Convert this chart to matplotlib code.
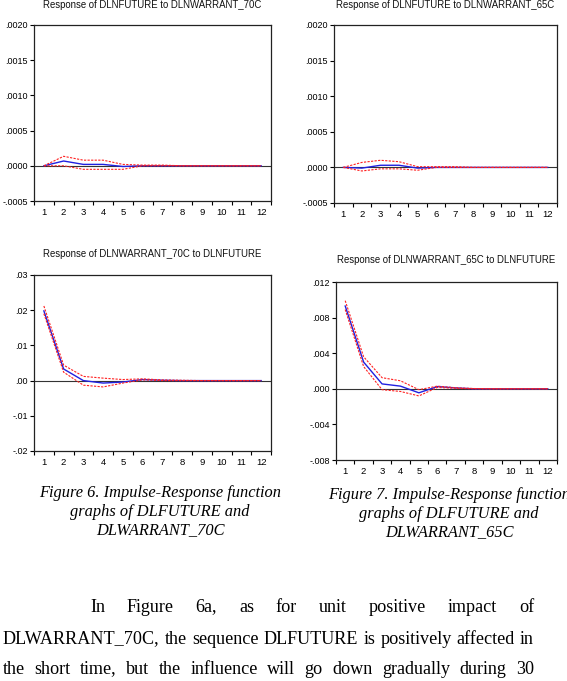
import matplotlib
matplotlib.use("Agg")
import matplotlib.pyplot as plt
from matplotlib import font_manager
import numpy as np

periods = list(range(1, 13))

# Panel 1: Response of DLNFUTURE to DLNWARRANT_70C
p1_resp = [0.0, 0.000068, 0.00002, 0.00002, -0.00001, 0.0, 0.0, 0.0, 0.0, 0.0, 0.0, 0.0]
p1_up = [0.0, 0.000135, 0.00008, 0.00008, 0.00002, 0.00001, 0.00001, 0.0, 0.0, 0.0, 0.0, 0.0]
p1_lo = [0.0, 0.0, -0.00005, -0.00005, -0.00005, 0.0, 0.0, 0.0, 0.0, 0.0, 0.0, 0.0]

# Panel 2: Response of DLNFUTURE to DLNWARRANT_65C
p2_resp = [0.0, -0.00001, 0.00003, 0.00003, -0.00001, 0.0, 0.0, 0.0, 0.0, 0.0, 0.0, 0.0]
p2_up = [0.0, 0.00007, 0.0001, 0.00008, 0.00001, 0.00001, 0.00001, 0.0, 0.0, 0.0, 0.0, 0.0]
p2_lo = [0.0, -0.00005, -0.00002, -0.00002, -0.00004, 0.0, 0.0, 0.0, 0.0, 0.0, 0.0, 0.0]

# Panel 3: Response of DLNWARRANT_70C to DLNFUTURE
p3_resp = [0.0198, 0.0033, 0.0, -0.0007, -0.0004, 0.0003, 0.0001, 0.0, 0.0, 0.0, 0.0, 0.0]
p3_up = [0.0212, 0.0044, 0.0012, 0.0007, 0.0003, 0.0005, 0.0002, 0.0001, 0.0, 0.0, 0.0, 0.0]
p3_lo = [0.019, 0.0024, -0.0013, -0.0018, -0.0007, 0.0002, 0.0, 0.0, 0.0, 0.0, 0.0, 0.0]

# Panel 4: Response of DLNWARRANT_65C to DLNFUTURE
p4_resp = [0.0093, 0.003, 0.00055, 0.0003, -0.00045, 0.00025, 0.0001, 0.0, 0.0, 0.0, 0.0, 0.0]
p4_up = [0.0099, 0.0036, 0.00125, 0.0009, -0.0001, 0.0003, 0.00012, 0.00003, 0.0, 0.0, 0.0, 0.0]
p4_lo = [0.0089, 0.0025, -0.0001, -0.0003, -0.0008, 0.00015, 0.00005, 0.0, 0.0, 0.0, 0.0, 0.0]

titles = ["Response of DLNFUTURE to DLNWARRANT_70C",
          "Response of DLNFUTURE to DLNWARRANT_65C",
          "Response of DLNWARRANT_70C to DLNFUTURE",
          "Response of DLNWARRANT_65C to DLNFUTURE"]

yticks1 = [-0.0005, 0.0, 0.0005, 0.0010, 0.0015, 0.0020]
ylabels1 = ["-.0005", ".0000", ".0005", ".0010", ".0015", ".0020"]
yticks3 = [-0.02, -0.01, 0.0, 0.01, 0.02, 0.03]
ylabels3 = ["-.02", "-.01", ".00", ".01", ".02", ".03"]
yticks4 = [-0.008, -0.004, 0.0, 0.004, 0.008, 0.012]
ylabels4 = ["-.008", "-.004", ".000", ".004", ".008", ".012"]

caption6 = ["Figure 6. Impulse-Response function", "graphs of DLFUTURE and", "DLWARRANT_70C"]
caption7 = ["Figure 7. Impulse-Response function", "graphs of DLFUTURE and", "DLWARRANT_65C"]
para = ["In Figure 6a, as for unit positive impact of",
        "DLWARRANT_70C, the sequence DLFUTURE is positively affected in",
        "the short time, but the influence will go down gradually during 30"]

W, H = 567, 681
fig = plt.figure(figsize=(W / 100, H / 100), dpi=100)
fig.patch.set_facecolor("white")

names = [f.name for f in font_manager.fontManager.ttflist]
chart_font = "Liberation Sans Narrow" if "Liberation Sans Narrow" in names else "Liberation Sans"
serif_font = "Liberation Serif"


def px_axes(l, r, t, b):
    return fig.add_axes([l / W, 1 - b / H, (r - l) / W, (b - t) / H])


panels = [
    ((34, 271, 25, 201), p1_resp, p1_up, p1_lo, yticks1, ylabels1, (-0.0005, 0.0020), 5),
    ((334, 557, 25, 203), p2_resp, p2_up, p2_lo, yticks1, ylabels1, (-0.0005, 0.0020), 5),
    ((34, 271, 275, 451), p3_resp, p3_up, p3_lo, yticks3, ylabels3, (-0.02, 0.03), 254),
    ((336, 557, 282, 460), p4_resp, p4_up, p4_lo, yticks4, ylabels4, (-0.008, 0.012), 260),
]

for i, (box, resp, up, lo, yt, yl, ylim, ty) in enumerate(panels):
    ax = px_axes(*box)
    ax.axhline(0, color="#333333", lw=0.8, zorder=1)
    ax.plot(periods, resp, color="#2020e0", lw=1.0, zorder=3)
    ax.plot(periods, up, color="#ff2020", lw=0.8, ls=(0, (2, 1.2)), zorder=4)
    ax.plot(periods, lo, color="#ff2020", lw=0.8, ls=(0, (2, 1.2)), zorder=4)
    ax.set_xlim(0.5, 12.5)
    ax.set_ylim(*ylim)
    ax.set_xticks(periods)
    ax.set_xticklabels([str(p) for p in periods], fontsize=6.8, family=chart_font)
    ax.set_xticks(np.arange(0.5, 13, 1.0), minor=True)
    ax.tick_params(axis="x", which="major", length=0, pad=5)
    ax.tick_params(axis="x", which="minor", length=3, width=0.8, direction="out")
    ax.set_yticks(yt)
    ax.set_yticklabels(yl, fontsize=6.5, family=chart_font)
    ax.tick_params(axis="y", length=3, width=0.8, direction="out", pad=1.5)
    for s in ax.spines.values():
        s.set_linewidth(0.9)
        s.set_color("#222222")
    cx = (box[0] + box[1]) / 2
    fig.text(cx / W, 1 - ty / H, titles[i], ha="center", va="center",
             fontsize=6.9, family=chart_font, color="#111111")

# Captions
for j, line in enumerate(caption6):
    fig.text(160 / W, 1 - (493 + j * 18.5) / H, line, ha="center", va="center",
             fontsize=11.8, family=serif_font, style="italic")
for j, line in enumerate(caption7):
    fig.text(449 / W, 1 - (495 + j * 18.5) / H, line, ha="center", va="center",
             fontsize=11.8, family=serif_font, style="italic")

# Justified paragraph
renderer = fig.canvas.get_renderer()


def justify(words, x0, x1, y, fs=13.1):
    texts = [fig.text(0, 1 - y / H, w, ha="left", va="center", fontsize=fs, family=serif_font)
             for w in words]
    widths = [t.get_window_extent(renderer).width for t in texts]
    gap = (x1 - x0 - sum(widths)) / max(len(words) - 1, 1)
    x = x0
    for t, wd in zip(texts, widths):
        t.set_x(x / W)
        x += wd + gap


justify(para[0].split(), 90, 534, 607)
justify(para[1].split(), 3, 534, 639)
justify(para[2].split(), 3, 534, 669)

fig.savefig("out.png", dpi=100)
